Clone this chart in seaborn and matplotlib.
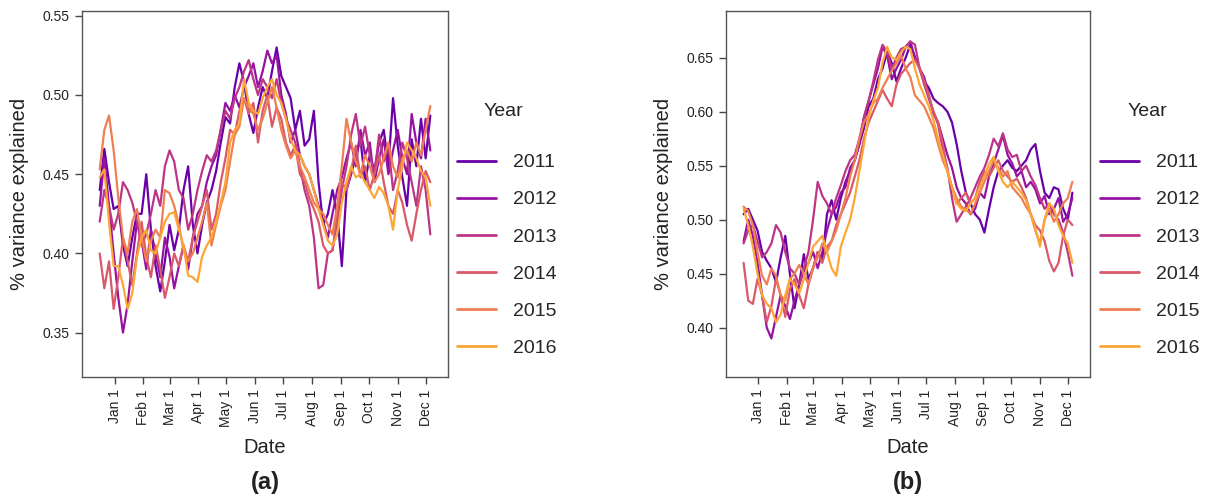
import numpy as np
import pandas as pd
import matplotlib
matplotlib.use("Agg")
import matplotlib.pyplot as plt
import seaborn as sns

# ---------------- data ----------------
years = ["2011", "2012", "2013", "2014", "2015", "2016"]

# day offsets from Jan 1 (moving window centres, mid-Dec .. early Dec)
days = [-16, -11, -6, -1, 4, 9, 14, 19, 24, 29, 34, 39,
        44, 49, 54, 59, 64, 69, 74, 79, 84, 89, 94, 99,
        104, 109, 114, 119, 124, 129, 134, 139, 144, 149, 154, 159,
        164, 169, 174, 179, 184, 189, 194, 199, 204, 209, 214, 219,
        224, 229, 234, 239, 244, 249, 254, 259, 264, 269, 274, 279,
        284, 289, 294, 299, 304, 309, 314, 319, 324, 329, 334, 339]

month_ticks = [0, 31, 59, 90, 120, 151, 181, 212, 243, 273, 304, 334]
month_labels = ["Jan 1", "Feb 1", "Mar 1", "Apr 1", "May 1", "Jun 1",
                "Jul 1", "Aug 1", "Sep 1", "Oct 1", "Nov 1", "Dec 1"]

# panel (a)
a_2011 = [0.440, 0.466, 0.445, 0.428, 0.430, 0.405, 0.392, 0.410, 0.425, 0.425, 0.450, 0.415,
          0.392, 0.376, 0.395, 0.418, 0.402, 0.415, 0.440, 0.455, 0.418, 0.400, 0.418, 0.432,
          0.440, 0.452, 0.470, 0.486, 0.482, 0.505, 0.520, 0.508, 0.488, 0.476, 0.492, 0.505,
          0.498, 0.515, 0.530, 0.512, 0.505, 0.498, 0.478, 0.490, 0.468, 0.472, 0.490, 0.445,
          0.418, 0.425, 0.440, 0.425, 0.392, 0.440, 0.450, 0.462, 0.472, 0.445, 0.462, 0.452,
          0.470, 0.478, 0.455, 0.498, 0.468, 0.448, 0.430, 0.472, 0.455, 0.485, 0.460, 0.487]
a_2012 = [0.430, 0.460, 0.430, 0.400, 0.372, 0.350, 0.368, 0.395, 0.420, 0.408, 0.390, 0.415,
          0.400, 0.385, 0.410, 0.398, 0.378, 0.392, 0.405, 0.390, 0.410, 0.425, 0.430, 0.445,
          0.455, 0.462, 0.478, 0.495, 0.490, 0.500, 0.492, 0.505, 0.512, 0.520, 0.505, 0.515,
          0.528, 0.520, 0.525, 0.500, 0.488, 0.470, 0.478, 0.462, 0.455, 0.450, 0.440, 0.430,
          0.420, 0.410, 0.425, 0.440, 0.448, 0.460, 0.470, 0.455, 0.478, 0.462, 0.470, 0.445,
          0.460, 0.472, 0.450, 0.465, 0.478, 0.460, 0.450, 0.488, 0.470, 0.460, 0.485, 0.465]
a_2013 = [0.420, 0.440, 0.430, 0.415, 0.425, 0.445, 0.440, 0.432, 0.420, 0.405, 0.412, 0.425,
          0.440, 0.430, 0.455, 0.465, 0.458, 0.440, 0.435, 0.415, 0.425, 0.440, 0.452, 0.462,
          0.458, 0.465, 0.478, 0.490, 0.485, 0.498, 0.505, 0.515, 0.522, 0.510, 0.500, 0.510,
          0.505, 0.498, 0.510, 0.495, 0.485, 0.478, 0.470, 0.455, 0.440, 0.430, 0.410, 0.378,
          0.380, 0.400, 0.402, 0.420, 0.440, 0.455, 0.475, 0.488, 0.468, 0.480, 0.462, 0.450,
          0.475, 0.458, 0.468, 0.440, 0.452, 0.470, 0.460, 0.445, 0.430, 0.455, 0.440, 0.412]
a_2014 = [0.400, 0.378, 0.395, 0.365, 0.385, 0.410, 0.395, 0.380, 0.400, 0.420, 0.398, 0.385,
          0.405, 0.390, 0.372, 0.385, 0.400, 0.392, 0.405, 0.395, 0.410, 0.420, 0.430, 0.440,
          0.415, 0.425, 0.445, 0.460, 0.478, 0.475, 0.490, 0.498, 0.488, 0.495, 0.470, 0.490,
          0.500, 0.480, 0.492, 0.485, 0.470, 0.462, 0.468, 0.450, 0.445, 0.435, 0.428, 0.420,
          0.405, 0.400, 0.402, 0.425, 0.445, 0.440, 0.452, 0.468, 0.448, 0.455, 0.440, 0.450,
          0.462, 0.445, 0.430, 0.425, 0.440, 0.432, 0.418, 0.408, 0.425, 0.440, 0.452, 0.445]
a_2015 = [0.453, 0.478, 0.487, 0.465, 0.435, 0.410, 0.400, 0.420, 0.428, 0.410, 0.395, 0.408,
          0.415, 0.410, 0.440, 0.438, 0.430, 0.418, 0.402, 0.395, 0.400, 0.410, 0.420, 0.432,
          0.405, 0.418, 0.430, 0.440, 0.458, 0.475, 0.480, 0.498, 0.492, 0.488, 0.478, 0.485,
          0.495, 0.505, 0.492, 0.478, 0.468, 0.460, 0.465, 0.455, 0.448, 0.440, 0.432, 0.428,
          0.425, 0.418, 0.412, 0.430, 0.455, 0.485, 0.470, 0.458, 0.450, 0.462, 0.455, 0.445,
          0.450, 0.460, 0.470, 0.455, 0.448, 0.460, 0.465, 0.458, 0.470, 0.462, 0.478, 0.493]
a_2016 = [0.448, 0.453, 0.420, 0.392, 0.392, 0.380, 0.365, 0.375, 0.398, 0.410, 0.415, 0.402,
          0.400, 0.410, 0.420, 0.425, 0.426, 0.415, 0.405, 0.386, 0.385, 0.382, 0.398, 0.405,
          0.410, 0.420, 0.432, 0.445, 0.470, 0.478, 0.482, 0.510, 0.495, 0.490, 0.488, 0.498,
          0.505, 0.510, 0.500, 0.495, 0.485, 0.472, 0.465, 0.462, 0.455, 0.450, 0.440, 0.428,
          0.418, 0.408, 0.405, 0.412, 0.432, 0.445, 0.455, 0.448, 0.450, 0.445, 0.440, 0.435,
          0.442, 0.438, 0.430, 0.415, 0.440, 0.455, 0.470, 0.465, 0.460, 0.452, 0.448, 0.430]

# panel (b)
b_2011 = [0.505, 0.510, 0.500, 0.490, 0.470, 0.462, 0.455, 0.442, 0.465, 0.485, 0.450, 0.418,
          0.440, 0.468, 0.445, 0.455, 0.470, 0.462, 0.505, 0.518, 0.500, 0.520, 0.535, 0.545,
          0.555, 0.570, 0.585, 0.605, 0.612, 0.630, 0.640, 0.655, 0.645, 0.628, 0.640, 0.650,
          0.662, 0.650, 0.640, 0.628, 0.622, 0.612, 0.608, 0.605, 0.600, 0.590, 0.570, 0.545,
          0.525, 0.515, 0.505, 0.500, 0.488, 0.510, 0.530, 0.545, 0.550, 0.555, 0.548, 0.545,
          0.550, 0.555, 0.565, 0.570, 0.545, 0.525, 0.520, 0.530, 0.528, 0.510, 0.500, 0.525]
b_2012 = [0.480, 0.500, 0.485, 0.460, 0.430, 0.400, 0.390, 0.410, 0.430, 0.420, 0.408, 0.425,
          0.440, 0.452, 0.460, 0.470, 0.455, 0.470, 0.490, 0.505, 0.512, 0.525, 0.530, 0.548,
          0.555, 0.570, 0.595, 0.610, 0.625, 0.640, 0.660, 0.652, 0.630, 0.640, 0.648, 0.660,
          0.665, 0.650, 0.640, 0.632, 0.615, 0.598, 0.590, 0.575, 0.560, 0.548, 0.530, 0.520,
          0.515, 0.505, 0.510, 0.525, 0.520, 0.540, 0.552, 0.565, 0.578, 0.560, 0.552, 0.540,
          0.545, 0.530, 0.535, 0.528, 0.515, 0.522, 0.505, 0.510, 0.520, 0.498, 0.505, 0.520]
b_2013 = [0.478, 0.490, 0.495, 0.480, 0.465, 0.470, 0.478, 0.495, 0.488, 0.470, 0.455, 0.450,
          0.440, 0.455, 0.470, 0.500, 0.535, 0.522, 0.515, 0.505, 0.520, 0.532, 0.545, 0.555,
          0.560, 0.575, 0.595, 0.610, 0.628, 0.648, 0.662, 0.655, 0.640, 0.650, 0.658, 0.660,
          0.665, 0.662, 0.640, 0.625, 0.612, 0.600, 0.588, 0.565, 0.548, 0.520, 0.498, 0.505,
          0.512, 0.520, 0.530, 0.540, 0.548, 0.560, 0.575, 0.568, 0.580, 0.565, 0.558, 0.560,
          0.545, 0.550, 0.540, 0.532, 0.520, 0.510, 0.515, 0.505, 0.500, 0.488, 0.470, 0.448]
b_2014 = [0.460, 0.425, 0.422, 0.445, 0.430, 0.405, 0.420, 0.445, 0.430, 0.410, 0.435, 0.445,
          0.430, 0.418, 0.440, 0.455, 0.470, 0.460, 0.475, 0.480, 0.495, 0.505, 0.515, 0.525,
          0.540, 0.555, 0.575, 0.590, 0.600, 0.610, 0.620, 0.612, 0.605, 0.625, 0.635, 0.640,
          0.645, 0.648, 0.640, 0.628, 0.615, 0.600, 0.590, 0.570, 0.545, 0.530, 0.515, 0.520,
          0.525, 0.515, 0.520, 0.535, 0.545, 0.540, 0.548, 0.555, 0.545, 0.540, 0.535, 0.538,
          0.530, 0.520, 0.505, 0.495, 0.490, 0.480, 0.462, 0.452, 0.460, 0.485, 0.500, 0.495]
b_2015 = [0.512, 0.508, 0.495, 0.470, 0.448, 0.440, 0.455, 0.448, 0.430, 0.425, 0.445, 0.450,
          0.458, 0.450, 0.440, 0.455, 0.465, 0.478, 0.470, 0.480, 0.490, 0.505, 0.520, 0.540,
          0.555, 0.575, 0.590, 0.598, 0.608, 0.612, 0.622, 0.630, 0.638, 0.645, 0.652, 0.640,
          0.632, 0.615, 0.610, 0.605, 0.595, 0.585, 0.570, 0.555, 0.545, 0.530, 0.520, 0.512,
          0.510, 0.505, 0.515, 0.525, 0.535, 0.545, 0.555, 0.548, 0.540, 0.545, 0.530, 0.525,
          0.520, 0.512, 0.505, 0.490, 0.478, 0.500, 0.510, 0.498, 0.505, 0.515, 0.520, 0.535]
b_2016 = [0.510, 0.495, 0.475, 0.450, 0.430, 0.422, 0.418, 0.405, 0.412, 0.430, 0.445, 0.440,
          0.432, 0.445, 0.460, 0.475, 0.480, 0.485, 0.470, 0.455, 0.448, 0.475, 0.488, 0.500,
          0.520, 0.545, 0.570, 0.595, 0.610, 0.622, 0.645, 0.660, 0.650, 0.648, 0.655, 0.660,
          0.658, 0.640, 0.625, 0.615, 0.605, 0.592, 0.575, 0.560, 0.545, 0.530, 0.515, 0.510,
          0.508, 0.515, 0.520, 0.530, 0.540, 0.552, 0.558, 0.545, 0.535, 0.530, 0.535, 0.530,
          0.525, 0.518, 0.505, 0.492, 0.475, 0.500, 0.515, 0.510, 0.495, 0.485, 0.478, 0.460]

panel_a = [a_2011, a_2012, a_2013, a_2014, a_2015, a_2016]
panel_b = [b_2011, b_2012, b_2013, b_2014, b_2015, b_2016]

a_yticks = [0.35, 0.40, 0.45, 0.50, 0.55]
b_yticks = [0.40, 0.45, 0.50, 0.55, 0.60, 0.65]


def long_df(series):
    rows = []
    for yr, vals in zip(years, series):
        for d, v in zip(days, vals):
            rows.append({"day": d, "value": v, "Year": yr})
    return pd.DataFrame(rows)


# ---------------- style ----------------
sns.set_style("white")
plt.rcParams["font.family"] = ["Liberation Sans", "DejaVu Sans"]

palette = [matplotlib.colormaps["plasma"](t) for t in np.linspace(0.2, 0.8, 6)]

W, H = 1212, 499
fig = plt.figure(figsize=(W / 100, H / 100), dpi=100)

panels = [
    dict(data=panel_a, rect=(82, 11, 448, 377), ylim=(0.322, 0.553),
         yticks=a_yticks, label="(a)", leg_x=449, title_x=503),
    dict(data=panel_b, rect=(726, 11, 1090, 377), ylim=(0.3543, 0.6932),
         yticks=b_yticks, label="(b)", leg_x=1092, title_x=1147),
]

for p in panels:
    l, t, r, b = p["rect"]
    ax = fig.add_axes([l / W, 1 - b / H, (r - l) / W, (b - t) / H])
    df = long_df(p["data"])
    sns.lineplot(data=df, x="day", y="value", hue="Year", hue_order=years,
                 palette=palette, linewidth=1.6, estimator=None, ax=ax,
                 legend=True)
    ax.set_xlim(-35, 358)
    ax.set_ylim(*p["ylim"])
    ax.set_xticks(month_ticks)
    ax.set_xticklabels(month_labels, rotation=90, fontsize=10, color="#222222")
    ax.set_yticks(p["yticks"])
    ax.set_yticklabels([f"{v:.2f}" for v in p["yticks"]], fontsize=10,
                       color="#222222")
    ax.tick_params(axis="both", which="major", direction="out", length=5,
                   width=1, color="#444444", pad=4, left=True, bottom=True)
    for s in ax.spines.values():
        s.set_visible(True)
        s.set_color("#555555")
        s.set_linewidth(1.0)
    ax.set_xlabel("Date", fontsize=14.5, color="#222222", labelpad=8)
    ax.set_ylabel("% variance explained", fontsize=14.5, color="#222222",
                  labelpad=10)

    handles, labels = ax.get_legend_handles_labels()
    if ax.get_legend() is not None:
        ax.get_legend().remove()
    for h in handles:
        h.set_linewidth(2.0)
    ax.legend(handles, labels, loc="upper left",
              bbox_to_anchor=(p["leg_x"] / W, 1 - 146 / H),
              bbox_transform=fig.transFigure, frameon=False,
              fontsize=14, handlelength=2.0,
              labelspacing=1.0, handletextpad=0.9, borderaxespad=0,
              borderpad=0.4)
    fig.text(p["title_x"] / W, 1 - 111 / H, "Year", ha="center", va="center",
             fontsize=14, color="#222222")

    fig.text((l + r) / 2 / W, 1 - 483 / H, p["label"], ha="center",
             va="center", fontsize=17, fontweight="bold", color="#222222")

fig.savefig("out.png", dpi=100, facecolor="white")
